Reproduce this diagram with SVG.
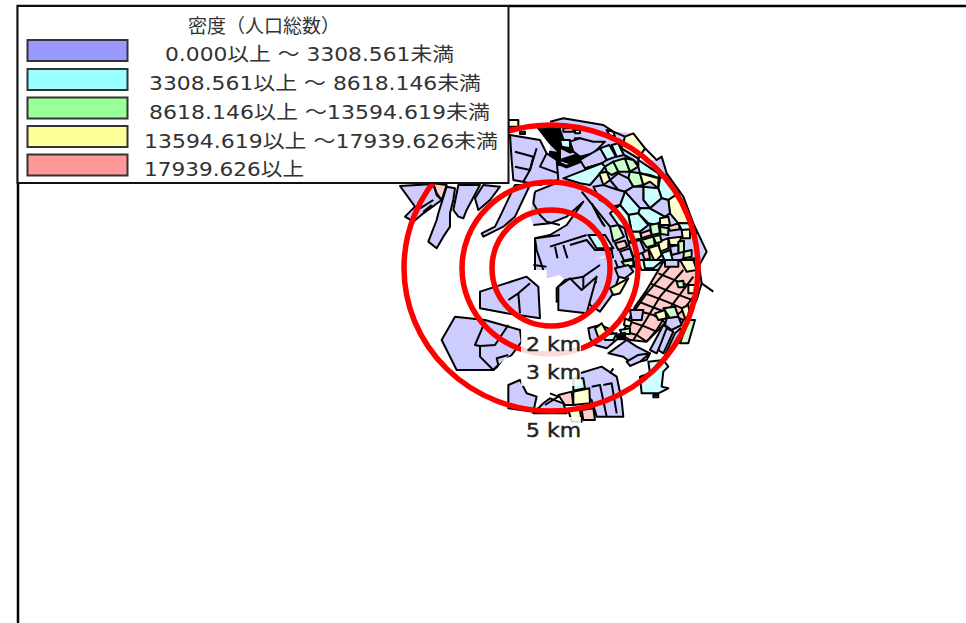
<svg xmlns="http://www.w3.org/2000/svg" width="966" height="623" viewBox="0 0 966 623">
<defs><style>
.m polygon,.m polyline{stroke:#000;stroke-width:6;stroke-linejoin:round}
.m polyline{fill:none}
.m .th{stroke-width:11}
.b{fill:#ccccff}.c{fill:#ccffff}.g{fill:#ccffcc}.y{fill:#ffffcc}.p{fill:#ffcccc}.k{fill:#000}
.m .w{fill:#fff;stroke:none}
.m .nb{stroke:none}
.ring{fill:none;stroke:#f00;stroke-width:5.500}
.t{font-family:"DejaVu Sans","Noto Sans CJK JP",sans-serif;font-size:19px;fill:#333}
.km{font-family:"DejaVu Sans",sans-serif;font-size:19px;fill:#222;stroke:#222;stroke-width:.4}
.sw{stroke:#333;stroke-width:2}
.halo{fill:#fff;fill-opacity:.85}
</style></defs>
<rect width="966" height="623" fill="#fff"/>
<g id="map">
<g class="m" transform="translate(550,110) scale(.3333)">
<polygon class="b nb" points="0,35 40,25 160,45 190,65 250,70 290,115 265,150 320,150 335,140 350,190 400,260 430,340 470,425 440,480 -45,480 -45,385 0,375 50,345 75,310 100,275 50,320 0,340 -50,345 -60,320 -50,250 0,220"/>
<polyline points="0,35 40,25 160,45 190,65 225,80"/>
<polyline points="285,115 320,150 335,140 350,190 400,260 430,340 470,425 440,480"/>
<polyline points="-45,480 -45,385 0,375 50,345 75,310 100,275 50,320 0,340 -50,345"/>
<polygon class="k" points="0,55 30,60 45,100 28,95 0,85"/>
<polygon class="k" points="0,125 30,130 30,165 0,160"/>
<polygon class="k" points="30,150 90,130 130,130 60,160"/>
<polyline class="th" points="0,95 30,110 60,125 100,110"/>
<polyline class="th" points="0,150 50,170 100,150"/>
<polyline points="0,85 60,120 130,130"/>
<polyline points="45,100 60,95"/>
<polygon class="p" points="40,55 70,55 70,65 40,65"/>
<polygon class="y" points="75,60 90,60 90,70 75,70"/>
<polygon class="y" points="170,60 190,65 195,80 178,75"/>
<polygon class="c" points="30,90 60,90 60,115 35,110"/>
<polygon class="g" points="75,85 90,85 85,100 72,98"/>
<polygon class="b" points="60,95 90,85 130,95 165,95 130,130 90,140 70,125"/>
<polygon class="c" points="150,115 178,105 198,140 170,150"/>
<polygon class="c" points="185,105 205,100 222,135 200,140"/>
<polygon class="b" points="205,100 215,115 265,145 270,165 250,150 222,135"/>
<polygon class="y" points="225,80 250,70 285,115 265,145 215,115"/>
<polygon class="b" points="90,150 150,115 170,150 155,160 105,175"/>
<polygon class="c" points="40,205 155,160 165,170 150,190 120,225 90,220"/>
<polygon class="y" points="148,190 170,185 180,210 160,225"/>
<polygon class="g" points="165,170 190,155 205,185 185,195 170,185"/>
<polygon class="g" points="190,155 225,145 240,185 205,185"/>
<polygon class="g" points="225,145 250,150 265,170 240,185"/>
<polygon class="c" points="265,150 325,190 330,205 300,195 270,190 265,170"/>
<polygon class="g" points="240,185 270,190 280,225 250,230 235,205"/>
<polygon class="b" points="180,210 205,190 235,205 250,230 225,245 205,240"/>
<polygon class="y" points="270,190 325,205 325,235 300,215 280,225"/>
<polygon class="c" points="330,205 345,195 385,250 355,270 335,265 325,235"/>
<polygon class="c" points="280,230 325,235 335,265 300,295 280,270"/>
<polygon class="b" points="225,245 250,230 280,230 280,270 300,295 270,295"/>
<polygon class="c" points="210,285 225,245 270,295 265,310 235,315"/>
<polygon class="b" points="130,230 160,225 205,240 225,245 210,285 185,290 150,270"/>
<polygon class="c" points="270,295 300,295 345,320 320,345 295,340 265,310"/>
<polygon class="c" points="235,315 265,310 295,345 270,365 245,365"/>
<polygon class="y" points="355,270 385,250 425,340 385,340 360,310"/>
<polygon class="b" points="335,265 355,270 360,310 345,320 300,295"/>
<polygon class="c" points="385,340 425,340 440,370 395,360"/>
<polygon class="c" points="180,310 210,285 235,315 245,365 205,345"/>
<polygon class="g" points="180,350 205,345 222,380 190,395"/>
<polygon class="g" points="225,360 245,365 270,365 275,385 235,395"/>
<polygon class="p" points="272,370 300,360 305,375 275,385"/>
<polygon class="g" points="300,345 325,340 330,370 305,375"/>
<polygon class="y" points="330,325 355,320 360,345 330,345"/>
<polygon class="p" points="355,350 385,340 390,358 360,362"/>
<polygon class="g" points="330,350 355,355 355,375 332,372"/>
<polygon class="y" points="355,385 395,380 385,405 360,405"/>
<polygon class="y" points="395,360 420,358 420,385 398,385"/>
<polygon class="g" points="275,390 310,380 315,405 290,412"/>
<polygon class="y" points="325,395 355,385 355,415 330,425"/>
<polygon class="g" points="310,380 330,375 335,395 318,400"/>
<polygon class="y" points="295,415 325,405 335,435 315,455"/>
<polygon class="g" points="385,395 402,392 402,425 385,430"/>
<polygon class="c" points="335,430 360,420 368,450 345,455"/>
<polygon class="p" points="275,425 295,420 300,445 285,450"/>
<polygon class="g" points="402,425 425,420 425,440 400,445"/>
<polygon class="y" points="410,450 435,445 440,480 415,480"/>
<polygon class="b" points="360,410 385,405 385,430 365,435"/>
<polygon class="c" points="260,450 290,450 300,480 275,480"/>
<polygon class="b" points="210,425 240,415 250,445 222,452"/>
<polygon class="p" points="195,400 225,392 232,410 205,420"/>
<polygon class="b" points="235,400 270,390 285,425 250,440"/>
<polygon class="g" points="220,458 250,450 255,470 225,470"/>
<polygon class="b" points="300,455 345,460 350,480 305,480"/>
<polygon class="b" points="370,455 410,445 415,480 375,480"/>
<polygon class="c" points="115,375 165,375 190,415 140,415"/>
<polyline points="60,405 110,390 135,420 185,420 190,450 125,470 60,480"/>
<polyline points="15,410 30,480"/>
<polyline points="40,405 60,470"/>
<polyline points="0,410 110,375"/>
<polyline points="125,280 160,345"/>
<polyline points="95,245 180,350"/>
<polyline points="130,290 145,320 165,350"/>
<polygon class="w" points="130,448 165,438 135,470 115,470"/>
</g>
<g class="m" transform="translate(400,110) scale(.3333)">
<polygon class="y" points="325,30 355,30 355,50 325,50"/>
<polygon class="b" points="0,228 100,222 110,255 125,270 70,310 40,335 15,320 45,290"/>
<polyline points="60,295 100,270"/>
<polyline points="70,305 95,285"/>
<polygon class="p" points="100,220 140,225 125,270 110,250"/>
<polygon class="b" points="85,395 110,330 115,310 140,230 165,235 160,270 150,310 150,350 130,380 110,415"/>
<polygon class="b" points="175,225 240,225 200,300 190,325 175,320 160,300"/>
<polygon class="b" points="250,225 300,230 270,270 235,300 225,265"/>
<polygon class="b" points="330,75 420,90 440,130 470,150 475,210 420,225 340,210 335,150"/>
<polyline points="345,125 400,140 390,180 345,170"/>
<polyline points="410,115 390,180 370,215"/>
<polyline points="440,130 420,170 475,190"/>
<polygon class="b" points="345,225 390,225 345,320 310,350 250,380 245,370 285,350 300,320"/>
<polyline points="405,245 480,215"/>
<polyline points="405,245 400,280 420,315 440,335 480,345"/>
<polyline points="405,385 480,375"/>
<polyline points="405,385 410,420 430,480"/>
<polyline points="400,465 440,470"/>
<polygon class="k" points="415,55 480,50 480,130 450,100"/>
<polygon class="c" points="440,85 470,95 470,100 445,92"/>
<polygon class="y" points="360,65 375,65 375,72 360,72"/>
</g>
<g class="m" transform="translate(550,260) scale(.3333)">
<polygon class="b nb" points="-10,-5 195,-5 210,40 190,100 150,155 120,135 100,90 60,115 20,125 20,85 45,60 30,45 -10,55"/>
<polyline points="195,0 210,40 190,100 150,155 120,135 100,90 60,115 20,125 20,85 45,60 100,50 150,15"/>
<polyline points="100,50 100,90 140,65"/>
<polygon class="g" points="215,5 250,0 250,18 225,18"/>
<polygon class="b" points="195,25 235,15 250,35 225,55 205,50"/>
<polygon class="c" points="280,0 340,0 310,25 285,25"/>
<polygon class="y" points="180,85 235,55 210,100 190,105"/>
<polygon class="p" points="340,5 445,0 455,70 440,120 395,190 345,190 290,245 240,240 215,225 255,140 290,90"/>
<polyline points="325,40 385,65 440,85"/>
<polyline points="300,70 360,95 440,125"/>
<polyline points="285,100 350,125 420,155"/>
<polyline points="265,125 330,150 400,180"/>
<polyline points="255,150 310,165 350,190"/>
<polyline points="240,185 285,200 320,215"/>
<polyline points="225,215 260,225 290,245"/>
<polyline points="360,20 290,100 255,150"/>
<polyline points="400,30 330,110 285,185 250,240"/>
<polyline points="430,50 370,130 320,210 290,245"/>
<polyline points="445,90 400,150 350,190"/>
<polygon class="y" points="390,0 430,0 440,30 410,35"/>
<polygon class="b" points="345,0 385,0 385,20 345,20"/>
<polygon class="g" points="380,65 400,62 402,82 385,82"/>
<polygon class="g" points="340,145 375,140 385,170 360,175"/>
<polygon class="y" points="315,160 345,150 350,175 325,180"/>
<polygon class="b" points="240,150 280,150 275,180 245,180"/>
<polygon class="b" points="350,175 385,170 395,195 365,210 345,195"/>
<polygon class="b" points="300,270 340,195 355,205 320,280"/>
<polygon class="b" points="325,270 350,205 370,215 340,280"/>
<polygon class="b" points="345,285 375,220 392,205 395,240"/>
<polygon class="g" points="415,180 435,180 415,250 390,250"/>
<polygon class="y" points="395,145 415,135 420,165 405,175"/>
<polygon class="y" points="415,75 440,75 440,100 415,100"/>
<polygon class="g" points="210,210 240,205 240,222 215,222"/>
<polygon class="y" points="225,175 245,185 240,200 222,195"/>
<polygon class="b" points="115,205 150,195 175,205 205,235 170,265 135,255 120,235"/>
<polygon class="y" points="135,205 155,190 175,225 145,232"/>
<polygon class="c" points="160,225 200,220 190,240 165,240"/>
<polygon class="k" points="200,225 225,218 225,238 205,238"/>
<polygon class="b" points="175,280 230,240 260,260 300,280 290,300 245,310 220,290"/>
<polygon class="b" points="230,305 265,285 300,280 270,305 240,318"/>
<polygon class="c" points="270,350 300,340 295,305 340,300 355,320 340,335 335,380 355,385 325,400 275,400"/>
<polygon class="c" points="310,405 325,405 325,412 310,412"/>
<polygon class="b" points="90,340 155,320 200,350 215,420 220,470 140,470 125,420 90,395"/>
<polyline points="125,380 150,375 170,470"/>
<polyline points="160,375 185,370 200,460"/>
<polygon class="c" points="70,355 100,355 105,385 70,392"/>
<polygon class="y" points="70,395 118,385 120,430 70,435"/>
<polygon class="p" points="25,405 65,395 70,435 45,435"/>
<polygon class="p" points="95,450 130,445 135,480 100,480"/>
<polygon class="y" points="55,450 90,450 95,485 65,485"/>
<polyline points="455,70 490,95"/>
<polyline points="190,325 180,340"/>
</g>
<g class="m" transform="translate(430,270) scale(.3333)">
<polygon class="b" points="75,140 165,150 270,180 275,215 245,255 190,300 80,300 35,210"/>
<polyline points="165,155 135,225 150,228 195,225 235,165"/>
<polyline points="150,228 150,260 190,300 205,285 200,265 235,255"/>
<polygon class="w" points="205,290 225,265 250,258 280,260 280,340 215,330"/>
<polygon class="b" points="150,65 290,20 325,50 330,145 230,130 150,115"/>
<polyline points="235,90 265,70 270,130"/>
<polyline points="265,70 300,40"/>
<polygon class="b" points="235,345 270,330 290,370 320,380 310,425 235,415"/>
<polygon class="b" points="310,430 340,400 360,385 400,400 410,430"/>
<polyline points="360,370 385,380 345,405"/>
<polygon class="b" points="385,50 420,25 455,60 500,20 470,130 385,120"/>
</g>
</g>
<g id="rings">
<ellipse class="ring" cx="551" cy="268" rx="147" ry="143"/>
<ellipse class="ring" cx="550" cy="268" rx="88" ry="86"/>
<ellipse class="ring" cx="551" cy="268" rx="59" ry="58"/>
</g>
<g id="labels">
<rect class="halo" x="521" y="331" width="60" height="28"/>
<rect class="halo" x="521" y="359" width="60" height="27"/>
<rect class="halo" x="521" y="417" width="60" height="28"/>
<text class="km" x="526" y="351" textLength="55" lengthAdjust="spacingAndGlyphs">2 km</text>
<text class="km" x="526" y="379" textLength="55" lengthAdjust="spacingAndGlyphs">3 km</text>
<text class="km" x="526" y="437" textLength="55" lengthAdjust="spacingAndGlyphs">5 km</text>
</g>
<g id="frame"><path d="M18 623V6H966" fill="none" stroke="#000" stroke-width="2.500"/></g>
<g id="legend">
<rect x="17.500" y="6" width="491" height="177" fill="#fff" stroke="#111" stroke-width="2"/>
<rect class="sw" x="27.500" y="40" width="100" height="21" fill="#9999ff"/>
<rect class="sw" x="27.500" y="69" width="100" height="21" fill="#99ffff"/>
<rect class="sw" x="27.500" y="97.500" width="100" height="21" fill="#99ff99"/>
<rect class="sw" x="27.500" y="126" width="100" height="21" fill="#ffff99"/>
<rect class="sw" x="27.500" y="154.500" width="100" height="21" fill="#ff9999"/>
<text class="t" x="188" y="33" textLength="152" lengthAdjust="spacingAndGlyphs">密度（人口総数）</text>
<text class="t" x="165" y="61" textLength="289" lengthAdjust="spacingAndGlyphs">0.000以上 ～ 3308.561未満</text>
<text class="t" x="149" y="90" textLength="332" lengthAdjust="spacingAndGlyphs">3308.561以上 ～ 8618.146未満</text>
<text class="t" x="149" y="119" textLength="341" lengthAdjust="spacingAndGlyphs">8618.146以上 ～13594.619未満</text>
<text class="t" x="144" y="148" textLength="354" lengthAdjust="spacingAndGlyphs">13594.619以上 ～17939.626未満</text>
<text class="t" x="144" y="176" textLength="160" lengthAdjust="spacingAndGlyphs">17939.626以上</text>
</g>
</svg>
